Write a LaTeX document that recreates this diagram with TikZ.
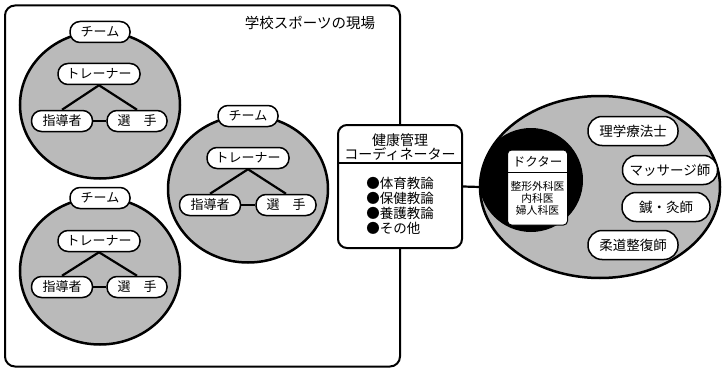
\documentclass[tikz,border=0pt]{standalone}
\usepackage{fontspec}
\setmainfont{Noto Sans CJK JP}
\usetikzlibrary{shapes.geometric}
\tikzset{
  fs/.style={font=\fontsize{#1}{#1}\selectfont},
  pill/.style={draw, fill=white, line width=1.5pt, rounded corners=10pt,
    minimum height=21pt, inner sep=0pt, fs=13},
  bigpill/.style={draw, fill=white, line width=1.5pt, rounded corners=14pt,
    minimum height=29pt, inner sep=0pt, fs=13.5},
  team/.style={draw, ellipse, fill=black!27, line width=2.5pt,
    minimum width=160pt, minimum height=147pt, inner sep=0pt},
  link/.style={line width=2.2pt},
}
\begin{document}
\begin{tikzpicture}[x=1pt, y=-1pt]
\useasboundingbox (0,0) rectangle (723,369);

% school frame
\node[draw, line width=2pt, rounded corners=10pt, minimum width=395pt,
  minimum height=361pt, inner sep=0pt] (frame) at (202.5,186) {};
\node[fs=14.5, inner sep=0pt] (ftitle) at (310,23) {学校スポーツの現場};

% team 1
\node[team] (c1) at (100,105) {};
\node[pill, minimum width=60pt] (t1) at (100,32) {チーム};
\node[pill, minimum width=82pt] (tr1) at (99,74) {トレーナー};
\node[pill, minimum width=61pt] (s1) at (62,121) {指導者};
\node[pill, minimum width=60pt] (p1) at (137,121) {選　手};
\draw[link] (tr1.south) -- (s1.north);
\draw[link] (tr1.south) -- (p1.north);
\draw[link] (s1.east) -- (p1.west);

% team 2
\node[team] (c2) at (100,271) {};
\node[pill, minimum width=60pt] (t2) at (100,198) {チーム};
\node[pill, minimum width=82pt] (tr2) at (99,241) {トレーナー};
\node[pill, minimum width=61pt] (s2) at (62,287) {指導者};
\node[pill, minimum width=60pt] (p2) at (137,287) {選　手};
\draw[link] (tr2.south) -- (s2.north);
\draw[link] (tr2.south) -- (p2.north);
\draw[link] (s2.east) -- (p2.west);

% team 3
\node[team] (c3) at (248,189) {};
\node[pill, minimum width=60pt] (t3) at (248,116) {チーム};
\node[pill, minimum width=82pt] (tr3) at (248,158) {トレーナー};
\node[pill, minimum width=61pt] (s3) at (210,205) {指導者};
\node[pill, minimum width=60pt] (p3) at (286,205) {選　手};
\draw[link] (tr3.south) -- (s3.north);
\draw[link] (tr3.south) -- (p3.north);
\draw[link] (s3.east) -- (p3.west);

% coordinator
\node[draw, fill=white, line width=2pt, rounded corners=9pt,
  minimum width=124pt, minimum height=123pt, inner sep=0pt] (coord) at (400,186.5) {};
\node[align=center, inner sep=0pt, font=\fontsize{14}{14.5}\selectfont]
  (ctitle) at (400,147) {健康管理\\コーディネーター};
\draw[line width=1.5pt] (coord.west |- 0,163) -- (coord.east |- 0,163);
\node[align=left, inner sep=0pt, font=\fontsize{13.5}{15}\selectfont]
  (clist) at (400,205.5) {●体育教論\\●保健教論\\●養護教論\\●その他};

% medical
\node[draw=none, ellipse, fill=black!27, minimum width=240pt, minimum height=182pt,
  inner sep=0pt] (outer) at (600,187) {};
\begin{scope}
  \clip (600,187) ellipse [x radius=120pt, y radius=91pt];
  \fill (531,180) circle [radius=52pt];
\end{scope}
\node[draw, ellipse, line width=2.5pt, minimum width=240pt, minimum height=182pt,
  inner sep=0pt] (outerb) at (600,187) {};
\draw[link] (coord.east) -- (outer.west);

\node[draw, fill=white, line width=1pt, rounded corners=4pt, minimum width=60pt,
  minimum height=75pt, inner sep=0pt] (doc) at (537.5,187.5) {};
\node[fs=12.5, inner sep=0pt] (dtitle) at (537.5,161.5) {ドクター};
\draw[line width=1pt] (doc.west |- 0,172) -- (doc.east |- 0,172);
\node[align=center, inner sep=0pt, font=\fontsize{10.8}{12}\selectfont]
  (dlist) at (537.5,198.5) {整形外科医\\内科医\\婦人科医};

\node[bigpill, minimum width=90pt] (r1) at (633,131) {理学療法士};
\node[bigpill, minimum width=95pt] (r2) at (670,170) {マッサージ師};
\node[bigpill, minimum width=88pt] (r3) at (666,207) {鍼・灸師};
\node[bigpill, minimum width=90pt] (r4) at (633,245) {柔道整復師};
\end{tikzpicture}
\end{document}
